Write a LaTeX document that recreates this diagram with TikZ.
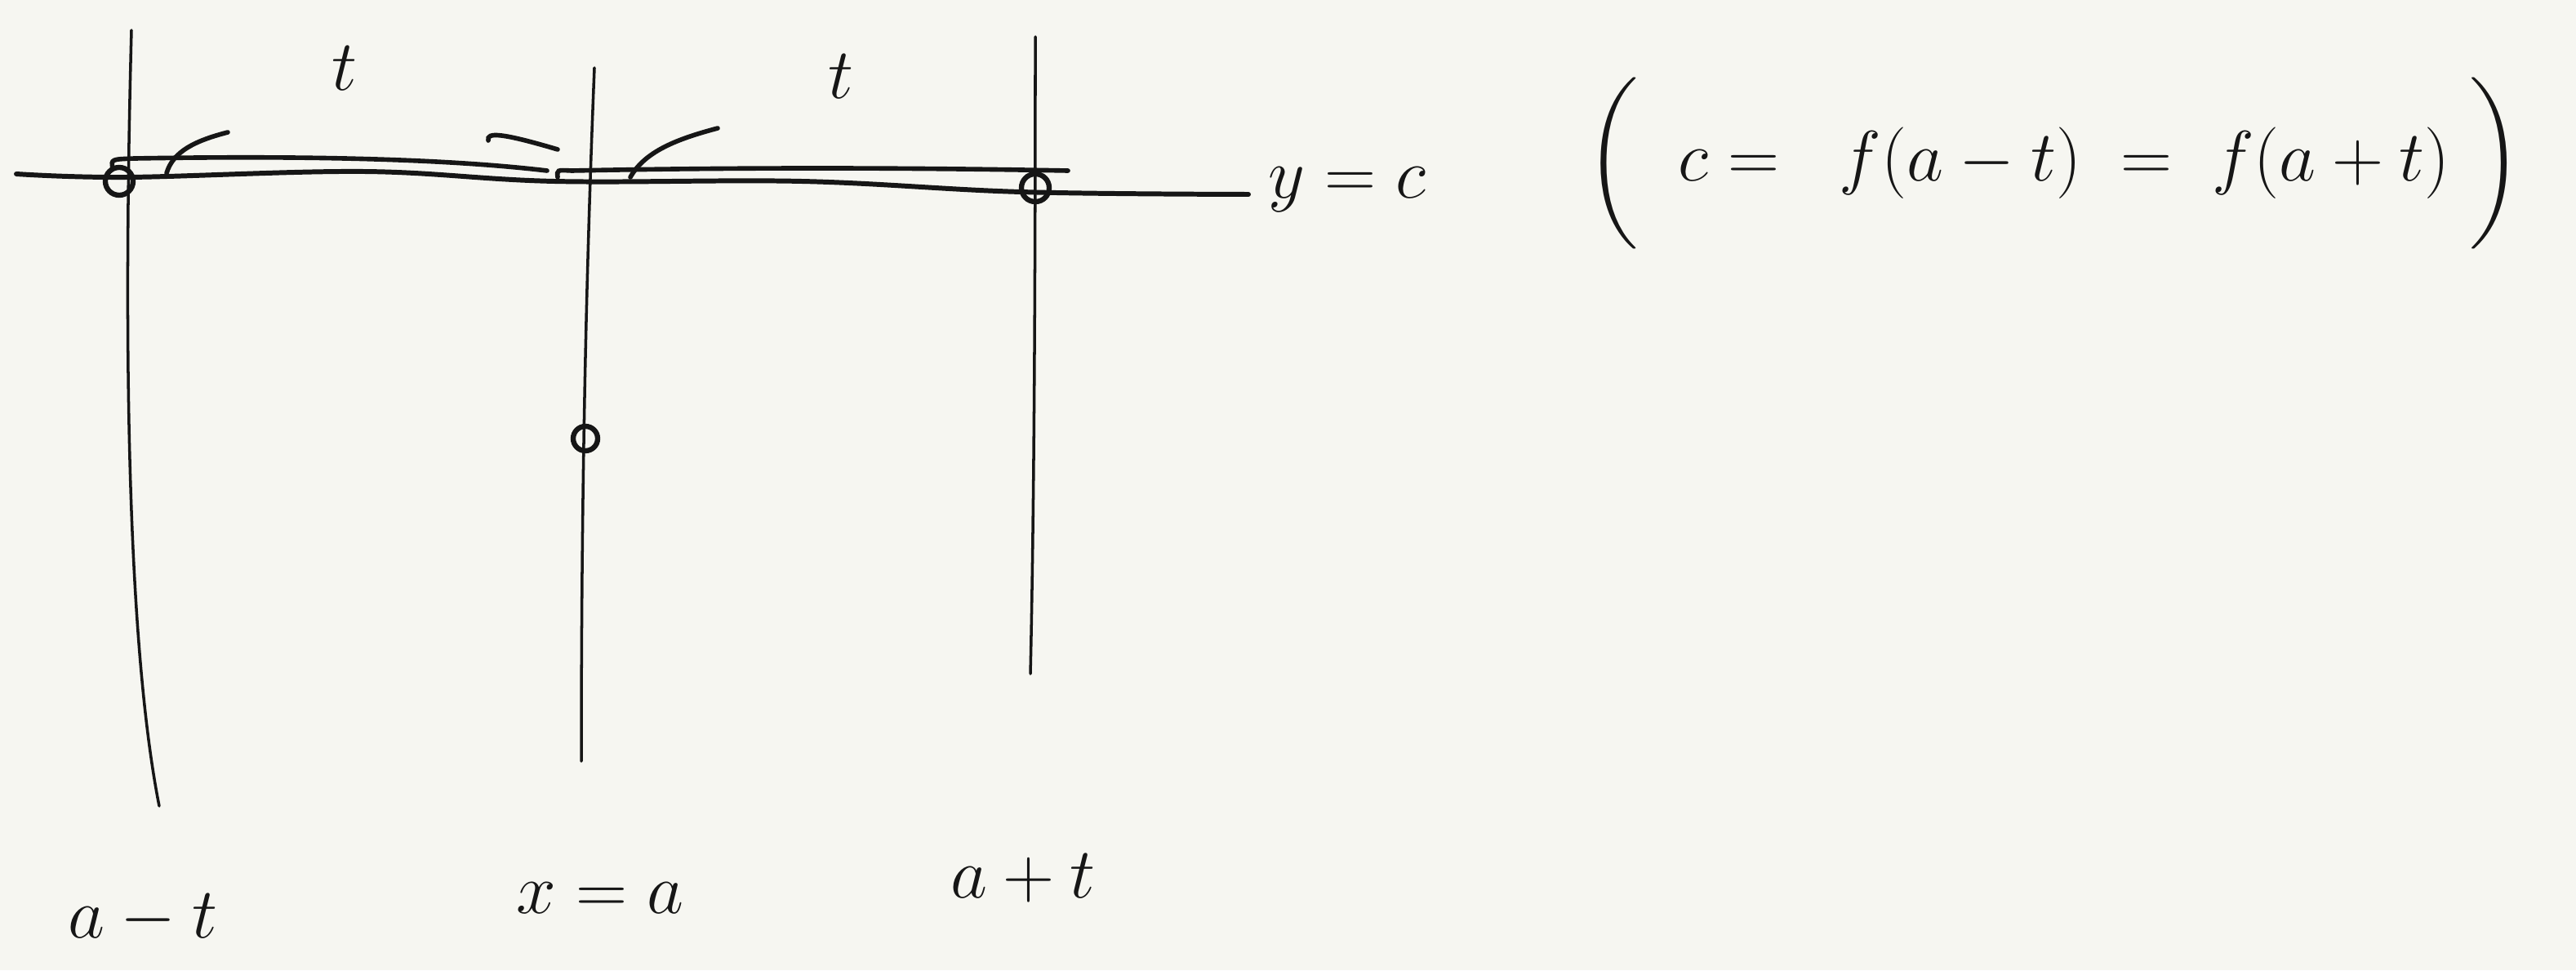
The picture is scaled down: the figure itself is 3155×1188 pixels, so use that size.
\documentclass[tikz,border=0pt]{standalone}
\usepackage{amsmath}
\usetikzlibrary{positioning}
\definecolor{ink}{HTML}{161616}
\definecolor{paper}{HTML}{F6F6F1}

\begin{document}
\begin{tikzpicture}[
  x=0.01cm, y=-0.01cm,
  level/.style={draw=ink, line width=1.7pt, line cap=round, line join=round},
  vline/.style={draw=ink, line width=1pt, line cap=round},
  widthmark/.style={draw=ink, line width=1.6pt, line cap=round},
  pt/.style={circle, draw=ink, line width=1.8pt, inner sep=0pt, minimum size=0.34cm},
  hand/.style={text=ink, inner sep=0pt, font=\fontsize{44}{52}\selectfont},
]
% Paper
\fill[paper] (0,0) rectangle (3155,1188);
\useasboundingbox (0,0) rectangle (3155,1188);

% Ends of the lines
\coordinate (l1top) at (161,37);
\coordinate (l1bot) at (195,987);
\coordinate (l2top) at (728,83);
\coordinate (l2bot) at (712,932);
\coordinate (l3top) at (1268,45);
\coordinate (l3bot) at (1262,825);
\coordinate (cl) at (20,213);
\coordinate (cr) at (1529,238);

% Vertical lines
\draw[vline] (l1top) .. controls (150,450) and (158,800) .. (l1bot);
\draw[vline] (l2top) .. controls (716,380) and (712,650) .. (l2bot);
\draw[vline] (l3top) .. controls (1268,400) and (1266,650) .. (l3bot);

% Level line y = c
\draw[level] plot[smooth, tension=0.6] coordinates
  {(cl) (156,217) (446,210) (679,222) (982,222) (1250,235) (cr)};

% Points
\node[pt] (pl) at (146,222) {};
\node[pt] (pr) at (1268,230) {};
\node[pt, minimum size=0.3cm] (pm) at (717,537) {};

% Width marks
\draw[widthmark] (138,206) .. controls (136,195) .. (165,194)
  .. controls (400,190) and (560,196) .. (670,209);
\draw[widthmark] (204,212) .. controls (212,185) and (240,172) .. (279,162);
\draw[widthmark] (598,172) .. controls (596,162) and (612,162) .. (683,183);
\draw[widthmark] (683,217) .. controls (682,208) .. (700,209)
  .. controls (900,205) and (1100,205) .. (1308,209);
\draw[widthmark] (772,217) .. controls (790,185) and (830,170) .. (879,157);

% Labels
\node[hand] (tl) at (422,84) {$t$};
\node[hand] (tr) at (1030,94) {$t$};
\node[hand] (lev) at (1650,232) {$y=c$};
\node[hand, font=\fontsize{52}{60}\selectfont] (eq) at (2516,200)
  {$\biggl(\;\; c =\;\; f(a-t) \;=\; f(a+t) \;\biggr)$};
\node[hand] (xl) at (175,1125) {$a-t$};
\node[hand] (xm) at (735,1100) {$x=a$};
\node[hand, font=\fontsize{48}{56}\selectfont] (xr) at (1253,1075) {$a+t$};

\end{tikzpicture}
\end{document}
